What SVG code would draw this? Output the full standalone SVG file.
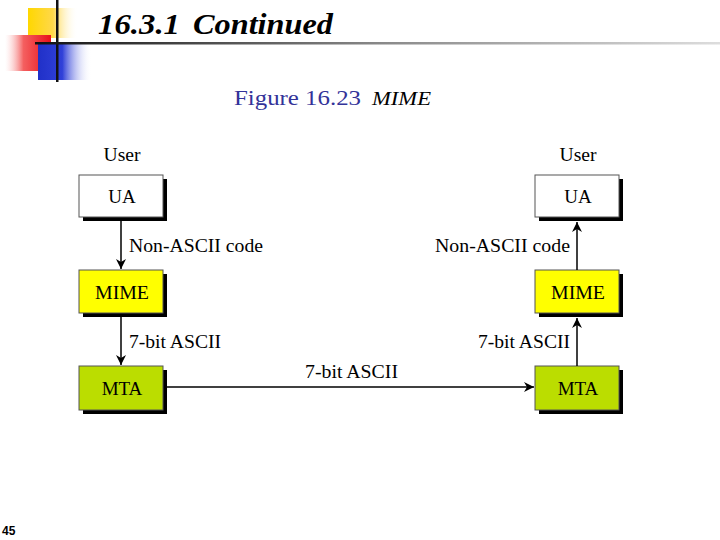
<svg xmlns="http://www.w3.org/2000/svg" width="720" height="540" viewBox="0 0 720 540">
<defs>
<linearGradient id="gy" x1="0" y1="0" x2="1" y2="0"><stop offset="0" stop-color="#FFD700"/><stop offset="0.5" stop-color="#FFD84A"/><stop offset="1" stop-color="#FFFFFF" stop-opacity="0"/></linearGradient>
<linearGradient id="gr" x1="1" y1="0" x2="0" y2="0"><stop offset="0" stop-color="#E8101A"/><stop offset="0.6" stop-color="#F46060"/><stop offset="1" stop-color="#FFFFFF" stop-opacity="0.3"/></linearGradient>
<linearGradient id="gb" x1="0" y1="0" x2="1" y2="0"><stop offset="0" stop-color="#2030C8"/><stop offset="0.45" stop-color="#3040D8"/><stop offset="1" stop-color="#FFFFFF" stop-opacity="0"/></linearGradient>
<linearGradient id="gl" x1="0" y1="0" x2="1" y2="0"><stop offset="0" stop-color="#111111"/><stop offset="0.5" stop-color="#888888"/><stop offset="1" stop-color="#DDDDDD"/></linearGradient>
<marker id="ah" viewBox="0 0 10 10" refX="10" refY="5" markerWidth="10" markerHeight="10" markerUnits="userSpaceOnUse" orient="auto"><path d="M0,0 L10,5 L0,10 L3,5 Z" fill="#000"/></marker>
</defs>
<style>
.box{stroke:#555;stroke-width:1}
.sh{fill:#000}
.bt{font-family:"Liberation Serif",serif;font-size:19px;text-anchor:middle;fill:#000}
.lb{font-family:"Liberation Serif",serif;font-size:19px;fill:#000}
.cn{stroke:#000;stroke-width:1.5;fill:none;marker-end:url(#ah)}
</style>
<g id="decor">
<rect x="28" y="8" width="50" height="30" fill="url(#gy)"/>
<rect x="5" y="35" width="46" height="36" fill="url(#gr)"/>
<rect x="38" y="44" width="54" height="36" fill="url(#gb)"/>
<rect x="56" y="0" width="2.5" height="82" fill="#111"/>
<rect x="35" y="42" width="685" height="2.5" fill="url(#gl)"/>
</g>
<text x="98" y="34" font-family="Liberation Serif,serif" font-size="30" font-weight="bold" font-style="italic" fill="#000" textLength="82" lengthAdjust="spacingAndGlyphs">16.3.1</text>
<text x="193" y="34" font-family="Liberation Serif,serif" font-size="30" font-weight="bold" font-style="italic" fill="#000" textLength="140" lengthAdjust="spacingAndGlyphs">Continued</text>
<text x="234" y="105" font-family="Liberation Serif,serif" font-size="22" fill="#333399" textLength="127" lengthAdjust="spacingAndGlyphs">Figure 16.23</text>
<text x="372" y="105" font-family="Liberation Serif,serif" font-size="18" font-style="italic" fill="#000" textLength="59" lengthAdjust="spacingAndGlyphs">MIME</text>
<text x="2" y="535" font-family="Liberation Sans,sans-serif" font-size="12" font-weight="bold" fill="#000">45</text>
<text x="122" y="161" class="bt" textLength="37" lengthAdjust="spacingAndGlyphs">User</text>
<text x="578" y="161" class="bt" textLength="37" lengthAdjust="spacingAndGlyphs">User</text>
<g id="ua-left"><rect x="83" y="179" width="84" height="42" class="sh"/><rect x="79" y="175" width="84" height="42" fill="#fff" class="box"/><text x="122" y="203" class="bt">UA</text></g>
<g id="mime-left"><rect x="83" y="274" width="84" height="43" class="sh"/><rect x="79" y="270" width="84" height="43" fill="#FFFF00" class="box"/><text x="122" y="299" class="bt" textLength="54" lengthAdjust="spacingAndGlyphs">MIME</text></g>
<g id="mta-left"><rect x="83" y="370" width="84" height="44" class="sh"/><rect x="79" y="366" width="84" height="44" fill="#BBDD00" class="box"/><text x="122" y="395" class="bt">MTA</text></g>
<g id="ua-right"><rect x="539" y="179" width="84" height="42" class="sh"/><rect x="535" y="175" width="84" height="42" fill="#fff" class="box"/><text x="578" y="203" class="bt">UA</text></g>
<g id="mime-right"><rect x="539" y="274" width="84" height="43" class="sh"/><rect x="535" y="270" width="84" height="43" fill="#FFFF00" class="box"/><text x="578" y="299" class="bt" textLength="54" lengthAdjust="spacingAndGlyphs">MIME</text></g>
<g id="mta-right"><rect x="539" y="370" width="84" height="44" class="sh"/><rect x="535" y="366" width="84" height="44" fill="#BBDD00" class="box"/><text x="578" y="395" class="bt">MTA</text></g>
<g id="connectors">
<line x1="121" y1="221" x2="121" y2="269" class="cn"/>
<line x1="121" y1="317" x2="121" y2="365" class="cn"/>
<line x1="167" y1="387" x2="534" y2="387" class="cn"/>
<line x1="577" y1="366" x2="577" y2="318" class="cn"/>
<line x1="577" y1="270" x2="577" y2="222" class="cn"/>
</g>
<text x="129" y="252" class="lb" textLength="134" lengthAdjust="spacingAndGlyphs">Non-ASCII code</text>
<text x="435" y="252" class="lb" textLength="135" lengthAdjust="spacingAndGlyphs">Non-ASCII code</text>
<text x="129" y="348" class="lb" textLength="92" lengthAdjust="spacingAndGlyphs">7-bit ASCII</text>
<text x="478" y="348" class="lb" textLength="92" lengthAdjust="spacingAndGlyphs">7-bit ASCII</text>
<text x="305" y="378" class="lb" textLength="93" lengthAdjust="spacingAndGlyphs">7-bit ASCII</text>
</svg>
